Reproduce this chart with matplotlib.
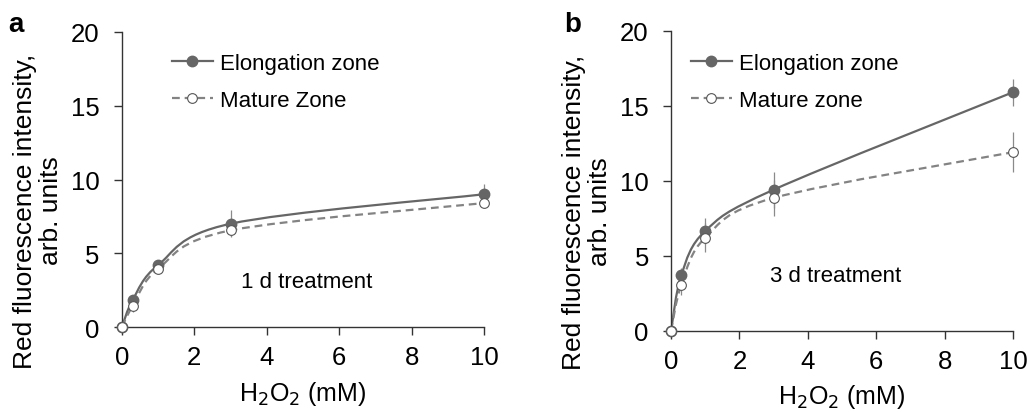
import numpy as np
import matplotlib.pyplot as plt
from matplotlib.path import Path
from matplotlib.patches import PathPatch
from matplotlib.lines import Line2D

plt.rcParams['font.family'] = ['Liberation Sans', 'DejaVu Sans']

# concentrations of H2O2 (mM)
conc = [0, 0.3, 1, 3, 10]

# panel a: 1 d treatment
elong_1d = [0, 1.85, 4.2, 7.0, 9.0]
elong_1d_err = [0, 0.25, 0.25, 0.9, 0.7]
mature_1d = [0, 1.45, 3.95, 6.55, 8.4]
mature_1d_err = [0, 0.4, 0.25, 0.4, 0.25]

# panel b: 3 d treatment
elong_3d = [0, 3.7, 6.65, 9.4, 15.9]
elong_3d_err = [0, 0.45, 0.85, 1.2, 0.9]
mature_3d = [0, 3.05, 6.2, 8.85, 11.9]
mature_3d_err = [0, 0.7, 0.95, 1.2, 1.35]

labels_a = ['Elongation zone', 'Mature Zone']
labels_b = ['Elongation zone', 'Mature zone']

c_el = '#666666'
c_ma = '#838383'


def smooth_path(x, y):
    # bezier smoothing like spreadsheet "smoothed line"
    p = np.column_stack([x, y]).astype(float)
    pts = np.vstack([p[0], p, p[-1]])
    verts = [p[0]]
    codes = [Path.MOVETO]
    for i in range(1, len(pts) - 2):
        c1 = pts[i] + (pts[i + 1] - pts[i - 1]) / 6.0
        c2 = pts[i + 1] - (pts[i + 2] - pts[i]) / 6.0
        verts += [c1, c2, pts[i + 1]]
        codes += [Path.CURVE4] * 3
    return Path(verts, codes)


def panel(ax, ye, ee, ym, em, labels, note, note_xy, leg_anchor):
    ax.add_patch(PathPatch(smooth_path(conc, ye), fill=False, ec=c_el, lw=1.6, zorder=2))
    ax.add_patch(PathPatch(smooth_path(conc, ym), fill=False, ec=c_ma, lw=1.6,
                           ls=(0, (3.5, 2.2)), zorder=2))
    ax.errorbar(conc, ye, yerr=ee, fmt='none', ecolor='#8a8a8a', elinewidth=0.9,
                capsize=0, zorder=3, clip_on=False)
    ax.errorbar(conc, ym, yerr=em, fmt='none', ecolor='#8a8a8a', elinewidth=0.9,
                capsize=0, zorder=3, clip_on=False)
    ax.plot(conc, ye, 'o', ms=7.5, mfc=c_el, mec=c_el, ls='none', zorder=4, clip_on=False)
    ax.plot(conc, ym, 'o', ms=7, mfc='white', mec='#555555', mew=0.8, ls='none',
            zorder=5, clip_on=False)

    h1 = Line2D([], [], color=c_el, lw=1.6, marker='o', ms=7.5, mfc=c_el, mec=c_el)
    h2 = Line2D([], [], color=c_ma, lw=1.6, ls=(0, (3.5, 2.2)), marker='o', ms=7,
                mfc='white', mec='#555555', mew=0.8)
    ax.legend([h1, h2], labels, frameon=False, loc='upper left', bbox_to_anchor=leg_anchor,
              fontsize=16, handlelength=1.85, handletextpad=0.3, labelspacing=0.72,
              borderpad=0, borderaxespad=0)

    ax.text(note_xy[0], note_xy[1], note, fontsize=16, ha='center', va='center')

    ax.set_xlim(0, 10)
    ax.set_ylim(0, 20)
    ax.set_xticks([0, 2, 4, 6, 8, 10])
    ax.set_yticks([0, 5, 10, 15, 20])
    for s in ['top', 'right']:
        ax.spines[s].set_visible(False)
    for s in ['left', 'bottom']:
        ax.spines[s].set_color('#333333')
        ax.spines[s].set_linewidth(1.0)
    ax.tick_params(direction='out', length=6, width=1.0, color='#333333',
                   labelsize=18.5)
    ax.tick_params(axis='y', pad=10)
    ax.tick_params(axis='x', pad=7)
    ax.set_xlabel('H$_2$O$_2$ (mM)', fontsize=18, labelpad=7)


fig = plt.figure(figsize=(10.3, 4.14), dpi=100)
ax1 = fig.add_axes([0.1184, 0.2077, 0.3515, 0.7126])
ax2 = fig.add_axes([0.6515, 0.1988, 0.332, 0.7246])

panel(ax1, elong_1d, elong_1d_err, mature_1d, mature_1d_err, labels_a,
      '1 d treatment', (5.1, 3.1), (0.138, 0.93))
panel(ax2, elong_3d, elong_3d_err, mature_3d, mature_3d_err, labels_b,
      '3 d treatment', (4.8, 3.65), (0.058, 0.925))

ylab = 'Red fluorescence intensity,\narb. units'
fig.text(38 / 1030, 1 - 211 / 414, ylab, rotation=90, ha='center', va='center',
         multialignment='center', fontsize=19, linespacing=1.1)
fig.text(587 / 1030, 1 - 212 / 414, ylab, rotation=90, ha='center', va='center',
         multialignment='center', fontsize=19, linespacing=1.1)

fig.text(0.008, 0.922, 'a', fontsize=20, fontweight='bold')
fig.text(0.548, 0.922, 'b', fontsize=20, fontweight='bold')

fig.savefig('out.png', dpi=100)
